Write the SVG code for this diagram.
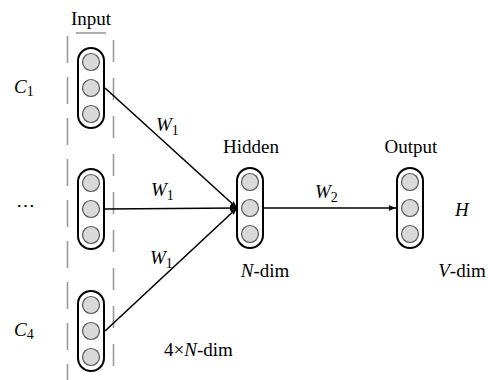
<svg xmlns="http://www.w3.org/2000/svg" width="488" height="380" viewBox="0 0 488 380" font-family="'Liberation Serif', 'Times New Roman', serif">
<defs>
<style>
.cap{fill:#fff;stroke:#000;stroke-width:2}
.neu{fill:#d9d9d9;stroke:#555;stroke-width:1.2}
.dash{stroke:#999;stroke-width:1.6;fill:none}
.edge{stroke:#000;stroke-width:1.6;fill:none}
text{font-family:'Liberation Serif','Times New Roman',serif;font-size:19px;fill:#000}
.it{font-style:italic}
.sub{font-size:14px;font-style:normal}
</style>
<marker id="ah" viewBox="0 0 10 10" refX="10" refY="5" markerWidth="7" markerHeight="7" orient="auto" markerUnits="userSpaceOnUse">
<path d="M0,1 L10,5 L0,9 Z" fill="#000"/>
</marker>
<g id="col">
<rect class="cap" x="-13" y="-40" width="26" height="80" rx="13"/>
<circle class="neu" cx="0" cy="-26" r="8.5"/>
<circle class="neu" cx="0" cy="0" r="8.5"/>
<circle class="neu" cx="0" cy="26" r="8.5"/>
</g>
</defs>
<g id="input-frame">
<line class="dash" x1="76" y1="33" x2="106" y2="33"/>
<line class="dash" x1="67.5" y1="36" x2="67.5" y2="380" stroke-dasharray="27 14"/>
<line class="dash" x1="113.5" y1="40" x2="113.5" y2="380" stroke-dasharray="22 16"/>
<text x="91" y="25" text-anchor="middle">Input</text>
<text x="164" y="356">4×<tspan class="it">N</tspan>-dim</text>
</g>
<g id="connectors">
<line class="edge" x1="105" y1="88" x2="237" y2="208" marker-end="url(#ah)"/>
<line class="edge" x1="105" y1="209" x2="237" y2="208" marker-end="url(#ah)"/>
<line class="edge" x1="105" y1="331" x2="237" y2="208" marker-end="url(#ah)"/>
<line class="edge" x1="264" y1="208" x2="396" y2="208" marker-end="url(#ah)"/>
<text class="it" x="156" y="131">W<tspan class="sub" dy="4">1</tspan></text>
<text class="it" x="151" y="196">W<tspan class="sub" dy="4">1</tspan></text>
<text class="it" x="150" y="264">W<tspan class="sub" dy="4">1</tspan></text>
<text class="it" x="315" y="198">W<tspan class="sub" dy="4">2</tspan></text>
</g>
<g id="c1">
<use href="#col" x="91" y="88"/>
<text class="it" x="14" y="93">C<tspan class="sub" dy="3">1</tspan></text>
</g>
<g id="cdots">
<use href="#col" x="91" y="209"/>
<text x="16" y="212">⋯</text>
</g>
<g id="c4">
<use href="#col" x="91" y="331"/>
<text class="it" x="14" y="336">C<tspan class="sub" dy="3">4</tspan></text>
</g>
<g id="hidden">
<use href="#col" x="250" y="208"/>
<text x="251" y="153" text-anchor="middle">Hidden</text>
<text x="265" y="277" text-anchor="middle"><tspan class="it">N</tspan>-dim</text>
</g>
<g id="output">
<use href="#col" x="410" y="208"/>
<text x="411" y="153" text-anchor="middle">Output</text>
<text class="it" x="455" y="216">H</text>
<text x="462" y="277" text-anchor="middle"><tspan class="it">V</tspan>-dim</text>
</g>
</svg>
